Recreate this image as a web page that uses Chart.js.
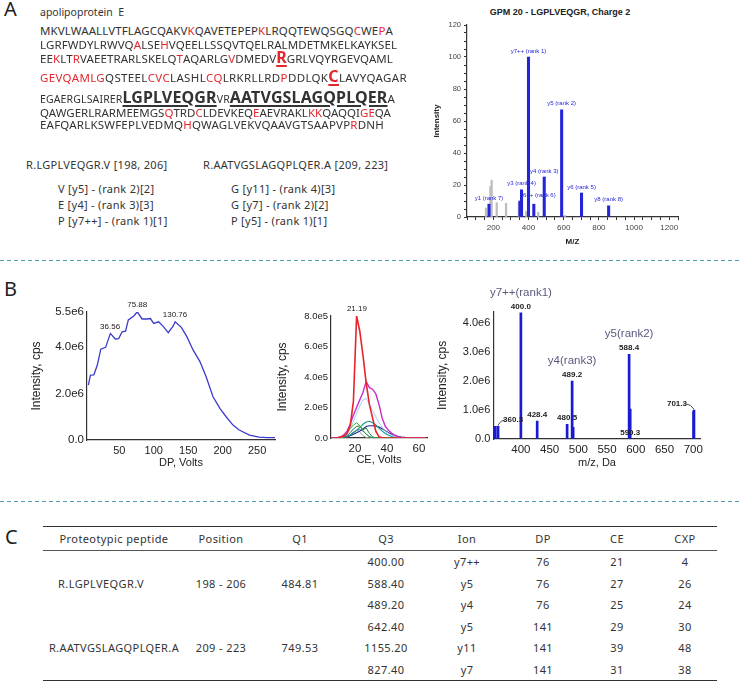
<!DOCTYPE html>
<html>
<head>
<meta charset="utf-8">
<script src="https://cdn.jsdelivr.net/npm/chart.js@4.4.1/dist/chart.umd.min.js"></script>
<style>
  html, body { margin: 0; padding: 0; background: #fff; }
  #page { position: relative; width: 740px; height: 681px; overflow: hidden; font-family: "Noto Sans", sans-serif; color: #333; }
  .abs { position: absolute; white-space: nowrap; }
  .panel { font-size: 20px; line-height: 24px; color: #222; }
  .seq { display: flex; align-items: baseline; left: 40px; font-size: 11.5px; line-height: 20px; }
  .seq span { line-height: 20px; }
  .seq .sm { font-size: 10.5px; }
  .seq .r { color: #e2282e; }
  .seq .big { font-size: 16px; font-weight: bold; text-decoration: underline; text-decoration-thickness: 2px; text-underline-offset: 2px; }
  .frag { font-size: 11px; line-height: 14px; color: #333; letter-spacing: 0.3px; }
  .dash { position: absolute; left: 0; width: 740px; height: 1px; background: repeating-linear-gradient(to right, #4f9cb5 0 4px, transparent 4px 7px); }
  canvas { position: absolute; }
  #tbl { position: absolute; left: 43px; top: 526px; width: 674px; border-collapse: collapse; table-layout: fixed; font-size: 11px; letter-spacing: 0.4px; color: #333; }
  #tbl th { font-weight: normal; height: 23px; padding: 0; text-align: center; border-top: 1.5px solid #333; border-bottom: 1px solid #555; }
  #tbl td { height: 21.5px; padding: 0; text-align: center; }
  #tbl tr.last td { border-bottom: 1.5px solid #333; }
</style>
</head>
<body>
<div id="page">
  <div class="abs panel" style="left:4px;top:-3px;">A</div>
  <div class="abs panel" style="left:4px;top:277px;">B</div>
  <div class="abs panel" style="left:5px;top:525px;">C</div>

  <div class="abs" style="left:40px;top:5px;font-size:10.5px;line-height:14px;color:#333;">apolipoprotein&nbsp; E</div>

  <div class="abs frag" style="left:26px;top:157.6px;">R.LGPLVEQGR.V [198, 206]</div>
  <div class="abs frag" style="left:203px;top:157.6px;">R.AATVGSLAGQPLQER.A [209, 223]</div>
  <div class="abs frag" style="left:58px;top:181.6px;">V [y5] - (rank 2)[2]</div>
  <div class="abs frag" style="left:58px;top:197.6px;">E [y4] - (rank 3)[3]</div>
  <div class="abs frag" style="left:58px;top:213.6px;">P [y7++] - (rank 1)[1]</div>
  <div class="abs frag" style="left:231px;top:181.6px;">G [y11] - (rank 4)[3]</div>
  <div class="abs frag" style="left:231px;top:197.6px;">G [y7] - (rank 2)[2]</div>
  <div class="abs frag" style="left:231px;top:213.6px;">P [y5] - (rank 1)[1]</div>

  <div class="abs" style="left:460px;top:7px;width:200px;text-align:center;font:bold 9px 'Liberation Sans',Arial,sans-serif;color:#222;">GPM 20 - LGPLVEQGR, Charge 2</div>

  <div class="dash" style="top:260px;"></div>
  <div class="dash" style="top:501px;"></div>

  <canvas id="gpm" width="300" height="258" style="left:400px;top:0px;"></canvas>
  <canvas id="dp" width="290" height="175" style="left:0px;top:300px;"></canvas>
  <canvas id="ce" width="175" height="175" style="left:260px;top:300px;"></canvas>
  <canvas id="ms" width="300" height="195" style="left:430px;top:280px;"></canvas>

  <table id="tbl">
    <colgroup>
      <col style="width:142px"><col style="width:72px"><col style="width:86px"><col style="width:86px">
      <col style="width:76px"><col style="width:76px"><col style="width:72px"><col style="width:64px">
    </colgroup>
    <thead><tr id="thead"></tr></thead>
    <tbody id="tbody"></tbody>
  </table>
</div>

<script>
// ---- panel A: sequence text ----
const seqLines = [
  [['MKVLWAALLVTFLAGCQAKV', ''], ['K', 'r'], ['QAVETEPEP', ''], ['K', 'r'], ['LRQQTEWQSGQ', ''], ['C', 'r'], ['WE', ''], ['P', 'r'], ['A', '']],
  [['LGRFWDYLRWVQ', ''], ['A', 'r'], ['LSE', ''], ['H', 'r'], ['VQEELLSSQVTQELRALMDETMKELKAYKSEL', '']],
  [['EE', ''], ['K', 'r'], ['LT', ''], ['R', 'r'], ['VAEETRARLSKELQ', ''], ['T', 'r'], ['AQARLG', ''], ['V', 'r'], ['DMEDV', ''], ['R', 'big r'], ['GRLVQYRGEVQAML', '']],
  [['GEVQAMLG', 'r'], ['QSTEEL', ''], ['CVC', 'r'], ['LASHL', ''], ['CQ', 'r'], ['LRKRLLRD', ''], ['P', 'r'], ['DDLQK', ''], ['C', 'big r'], ['LAVYQAGAR', '']],
  [['EGAERGLSAIRER', 'sm'], ['LGPLVEQGR', 'big'], ['VR', 'sm'], ['AATVGSLAGQPLQER', 'big'], ['A', '']],
  [['QAWGERLRARMEEMGS', ''], ['Q', 'r'], ['TRD', ''], ['C', 'r'], ['LDEVKEQ', ''], ['E', 'r'], ['AEVRAKL', ''], ['KK', 'r'], ['QAQQI', ''], ['GE', 'r'], ['QA', '']],
  [['EAFQARLKSWFEPLVEDMQ', ''], ['H', 'r'], ['QWAGLVEKVQAAVGTSAAPVP', ''], ['R', 'r'], ['DNH', '']]
];
const seqTop = [20.6, 34.6, 46.9, 65.9, 86.8, 102.6, 114.6];
const seqEnd = [393, 397, 393, 407, 395, 391, 384];

const page = document.getElementById('page');
seqLines.forEach((segs, i) => {
  const div = document.createElement('div');
  div.className = 'abs seq';
  div.style.top = seqTop[i] + 'px';
  segs.forEach(([t, c]) => {
    const s = document.createElement('span');
    s.textContent = t;
    if (c) s.className = c;
    div.appendChild(s);
  });
  page.appendChild(div);
  const w = div.getBoundingClientRect().width;
  const n = segs.reduce((a, [t]) => a + t.length, 0);
  div.style.letterSpacing = ((seqEnd[i] - 40 - w) / n) + 'px';
});

// ---- panel C: table ----
const tableHead = ['Proteotypic peptide', 'Position', 'Q1', 'Q3', 'Ion', 'DP', 'CE', 'CXP'];
const peptides = ['R.LGPLVEQGR.V', 'R.AATVGSLAGQPLQER.A'];
const positions = ['198 - 206', '209 - 223'];
const q1Values = ['484.81', '749.53'];
const q3Values = ['400.00', '588.40', '489.20', '642.40', '1155.20', '827.40'];
const ionNames = ['y7++', 'y5', 'y4', 'y5', 'y11', 'y7'];
const dpValues = [76, 76, 76, 141, 141, 141];
const ceValues = [21, 27, 25, 29, 39, 31];
const cxpValues = [4, 26, 24, 30, 48, 38];

document.getElementById('thead').innerHTML = tableHead.map(h => `<th>${h}</th>`).join('');
let rows = '';
q3Values.forEach((q3, i) => {
  const p = Math.floor(i / 3);
  const lead = i % 3 === 0
    ? `<td rowspan="3">${peptides[p]}</td><td rowspan="3">${positions[p]}</td><td rowspan="3">${q1Values[p]}</td>` : '';
  rows += `<tr class="${i === q3Values.length - 1 ? 'last' : ''}">${lead}<td>${q3}</td><td>${ionNames[i]}</td><td>${dpValues[i]}</td><td>${ceValues[i]}</td><td>${cxpValues[i]}</td></tr>`;
});
document.getElementById('tbody').innerHTML = rows;
document.querySelectorAll('#tbody td[rowspan]').forEach((td, k) => { if (k >= 3) td.style.borderBottom = '1.5px solid #333'; });
document.querySelector('#tbody td[rowspan]').style.paddingRight = '26px';

// ---- chart data ----
// GPM spectrum (A)
const gpmGrayMz  = [158, 183, 190, 219, 272, 345, 352, 387, 455, 607];
const gpmGrayInt = [5.6, 19, 23, 9, 8.5, 9, 9, 3.5, 3, 1];
const gpmBlueMz  = [175.1, 351.2, 360.2, 399.7, 430, 489.2, 588.3, 701.4, 855.5];
const gpmBlueInt = [8, 10, 17, 100, 8, 25, 67, 15, 7];
const gpmBlueTags = ['y1 (rank 7)', 'y6++ (rank 6)', 'y3 (rank 4)', 'y7++ (rank 1)', '', 'y4 (rank 3)', 'y5 (rank 2)', 'y6 (rank 5)', 'y8 (rank 8)'];

// DP ramp (B left), intensity in 1e6 cps
const dpVolts = [5, 8, 13, 18, 23, 30, 37, 44, 49, 54, 59, 63, 71, 76, 83, 90, 95, 100, 107, 114, 121, 128, 131, 140, 148, 157, 167, 176, 186, 196, 205, 215, 224, 239, 253, 265, 276];
const dpInt = [2.36, 2.79, 2.8, 3.22, 3.9, 3.98, 4.58, 4.34, 4.36, 4.65, 4.68, 5.16, 5.33, 5.51, 5.2, 5.2, 5.22, 5.01, 5.08, 4.87, 4.61, 4.89, 5.08, 4.84, 4.44, 3.87, 3.37, 2.72, 1.86, 1.36, 1.0, 0.64, 0.43, 0.21, 0.12, 0.1, 0.1];
const dpPeakV = [36.56, 75.88, 130.76];
const dpPeakI = [4.58, 5.51, 5.08];
const dpXTicks = [50, 100, 150, 200, 250];
const dpYTicks = [0, 2, 4, 5.5];

// CE ramp (B middle), intensity in 1e5 cps
const ceVolts   = [5, 7, 9, 11, 13, 15, 17, 19, 21, 23, 25, 27, 29, 31, 33, 35, 37, 39, 41, 43, 45, 47, 49, 51, 53, 55, 58, 61, 64];
const ceRed     = [0, 0, 0.02, 0.05, 0.12, 0.3, 0.8, 2.4, 8.0, 7.0, 5.4, 3.6, 2.2, 1.3, 0.45, 0.08, 0.02, 0, 0, 0, 0, 0, 0, 0, 0, 0, 0, 0, 0];
const ceMagenta = [0, 0, 0.02, 0.08, 0.2, 0.45, 0.9, 1.5, 2.0, 2.5, 3.0, 3.7, 3.3, 3.2, 2.9, 2.2, 1.3, 0.75, 0.5, 0.3, 0.18, 0.08, 0.03, 0, 0, 0, 0, 0, 0];
const ceLtBlue  = [0, 0, 0, 0.03, 0.1, 0.3, 0.65, 1.1, 1.6, 2.1, 2.5, 2.6, 2.2, 1.8, 1.4, 1.0, 0.7, 0.45, 0.3, 0.18, 0.1, 0.05, 0.02, 0, 0, 0, 0, 0, 0];
const ceGreen   = [0, 0, 0, 0, 0.1, 0.3, 0.6, 0.85, 1.0, 0.8, 0.5, 0.25, 0.08, 0, 0, 0, 0, 0, 0, 0, 0, 0, 0, 0, 0, 0, 0, 0, 0];
const ceDkGreen = [0, 0, 0, 0, 0.05, 0.15, 0.35, 0.6, 0.75, 0.8, 0.55, 0.65, 0.3, 0.08, 0, 0, 0, 0, 0, 0, 0, 0, 0, 0, 0, 0, 0, 0, 0];
const ceTeal    = [0, 0, 0, 0, 0.03, 0.1, 0.2, 0.35, 0.5, 0.7, 0.9, 1.05, 1.1, 1.0, 0.85, 0.65, 0.45, 0.3, 0.18, 0.1, 0.05, 0.02, 0, 0, 0, 0, 0, 0, 0];
const ceNavy    = [0, 0, 0, 0, 0.02, 0.08, 0.15, 0.25, 0.35, 0.45, 0.6, 0.75, 0.8, 0.8, 0.78, 0.72, 0.6, 0.48, 0.35, 0.25, 0.17, 0.1, 0.06, 0.04, 0.02, 0, 0, 0, 0];
const ceGray    = [0, 0, 0, 0, 0, 0.05, 0.2, 0.4, 0.5, 0.4, 0.15, 0.03, 0, 0, 0, 0, 0, 0, 0, 0, 0, 0, 0, 0, 0, 0, 0, 0, 0];
const ceBlue    = [0, 0, 0, 0, 0.02, 0.08, 0.2, 0.35, 0.5, 0.55, 0.45, 0.25, 0.1, 0.02, 0, 0, 0, 0, 0, 0, 0, 0, 0, 0, 0, 0, 0, 0, 0];
const cePeakV = [21.19];
const cePeakI = [8.0];
const ceXTicks = [20, 40, 60];
const ceYTicks = [0, 2, 4, 6, 8];

// product ion spectrum (B right), intensity in 1e6 cps
const msMz  = [353, 355.5, 360.3, 400.0, 428.4, 480.5, 489.2, 491, 588.4, 590.3, 700.6, 701.3];
const msInt = [0.42, 0.44, 0.45, 4.36, 0.62, 0.51, 2.0, 0.4, 2.93, 1.03, 0.95, 1.0];
const msTagMz  = [360.3, 400.0, 428.4, 480.5, 489.2, 588.4, 590.3, 701.3];
const msTagInt = [0.45, 4.36, 0.62, 0.51, 2.0, 2.93, 0, 1.0];
const msIonMz  = [400.0, 489.2, 588.4];
const msIonInt = [4.36, 2.0, 2.93];
const msIonTags = ['y7++(rank1)', 'y4(rank3)', 'y5(rank2)'];
const msXTicks = [400, 450, 500, 550, 600, 650, 700];
const msYTicks = [0, 1, 2, 3, 4];

// ---- chart setup ----
Chart.defaults.font.family = '"Liberation Sans", Arial, sans-serif';
Chart.defaults.color = '#222';
Chart.defaults.animation = false;
Chart.defaults.responsive = false;
Chart.defaults.plugins.legend.display = false;
Chart.defaults.plugins.tooltip.enabled = false;

function axis(o) {
  const a = {
    type: 'linear', min: o.min, max: o.max, offset: false,
    afterFit: s => { if (o.w) s.width = o.w; if (o.h) s.height = o.h; },
    border: { color: '#333', width: 1.2 },
    grid: { display: true, drawOnChartArea: false, drawTicks: !!o.tick, tickLength: o.tick || 0, color: '#333', offset: false },
    ticks: { font: { size: o.fs }, color: o.tc || '#222', padding: o.pad ?? 3, maxRotation: 0, autoSkip: false, callback: o.fmt },
    title: { display: true, text: o.title, color: '#222', font: { size: o.tfs, weight: o.tw || 'normal' }, padding: o.tpad }
  };
  if (o.step) a.ticks.stepSize = o.step;
  if (o.list) a.afterBuildTicks = s => { s.ticks = o.list.map(v => ({ value: v })); };
  return a;
}

// text tags anchored on data values
const tags = {
  id: 'tags',
  afterDatasetsDraw(chart, args, opts) {
    const { ctx, scales: { x, y } } = chart;
    ctx.save();
    (opts.groups || []).forEach(g => {
      ctx.font = g.font;
      ctx.fillStyle = g.color;
      ctx.textBaseline = 'middle';
      g.items.forEach(t => {
        if (!t.text) return;
        const ax = x.getPixelForValue(t.x), ay = y.getPixelForValue(t.y);
        const px = ax + (t.dx || 0), py = ay - g.gap;
        ctx.textAlign = t.align || 'center';
        ctx.fillText(t.text, px, py);
        if (t.dx) {
          ctx.strokeStyle = g.color; ctx.lineWidth = 0.8;
          ctx.beginPath();
          ctx.moveTo(ax, ay - 1);
          ctx.quadraticCurveTo(ax + t.dx * 0.2, py, ax + t.dx * 0.45, py);
          ctx.stroke();
        }
      });
    });
    ctx.restore();
  }
};

// A: GPM spectrum
new Chart(document.getElementById('gpm'), {
  type: 'bar',
  data: {
    datasets: [
      { data: gpmBlueMz.map((x, i) => ({ x, y: gpmBlueInt[i] })), backgroundColor: '#2424d8', barThickness: 2.4, grouped: false },
      { data: gpmGrayMz.map((x, i) => ({ x, y: gpmGrayInt[i] })), backgroundColor: '#bdbdbd', barThickness: 1.6, grouped: false }
    ]
  },
  options: {
    layout: { padding: { left: 0, top: 25, right: 22, bottom: 0 } },
    scales: {
      x: axis({ min: 50, max: 1250, step: 50, h: 41, tick: 3, pad: 3, fs: 8, tc: '#444',
        fmt: v => (v % 200 === 0 ? v : ''), title: 'M/Z', tfs: 8, tw: 'bold', tpad: { top: 0, bottom: 11 } }),
      y: axis({ min: 0, max: 120, step: 5, w: 67, tick: 3, pad: 3, fs: 7.5, tc: '#444',
        fmt: v => (v % 20 === 0 ? v : ''), title: 'Intensity', tfs: 8, tw: 'bold', tpad: { top: 32, bottom: 0 } })
    },
    plugins: {
      tags: { groups: [{
        font: '6px "Liberation Sans", Arial', color: '#2424d8', gap: 6,
        items: gpmBlueMz.map((x, i) => ({ x, y: gpmBlueInt[i], text: gpmBlueTags[i], align: gpmBlueTags[i].startsWith('y6++') ? 'left' : 'center' }))
      }] }
    }
  },
  plugins: [tags]
});

// B left: DP ramp
new Chart(document.getElementById('dp'), {
  type: 'line',
  data: { datasets: [{ data: dpVolts.map((x, i) => ({ x, y: dpInt[i] })), borderColor: '#3b3bcc', borderWidth: 1.3, pointRadius: 0, tension: 0 }] },
  options: {
    layout: { padding: { left: 0, top: 12, right: 15, bottom: 0 } },
    scales: {
      x: axis({ min: 3, max: 276, list: dpXTicks, h: 35, pad: 4, fs: 11, title: 'DP, Volts', tfs: 11, tpad: { top: 0, bottom: 5.4 } }),
      y: axis({ min: 0, max: 5.5, list: dpYTicks, w: 87, pad: 3, fs: 11.5,
        fmt: v => (v === 0 ? '0.0' : v.toFixed(1) + 'e6'), title: 'Intensity, cps', tfs: 12, tpad: { top: 29.5, bottom: 0 } })
    },
    plugins: {
      tags: { groups: [{ font: '8px "Liberation Sans", Arial', color: '#222', gap: 7,
        items: dpPeakV.map((x, i) => ({ x, y: dpPeakI[i], text: x.toFixed(2) })) }] }
    }
  },
  plugins: [tags]
});

// B middle: CE ramp
const ceSeries = [
  [ceRed, '#e8242a', 1.6], [ceMagenta, '#cc2ccc', 1.4], [ceLtBlue, '#9fd0ee', 1.0],
  [ceGreen, '#2fae2f', 1.0], [ceDkGreen, '#1f7a45', 1.0], [ceTeal, '#139a8c', 1.1],
  [ceNavy, '#23238f', 1.1], [ceGray, '#9a9a9a', 1.0], [ceBlue, '#3060cc', 1.0]
];
new Chart(document.getElementById('ce'), {
  type: 'line',
  data: { datasets: ceSeries.map(([vals, color, w]) => ({
    data: ceVolts.map((x, i) => ({ x, y: vals[i] })), borderColor: color, borderWidth: w, pointRadius: 0, tension: 0 })) },
  options: {
    layout: { padding: { left: 0, top: 16, right: 8, bottom: 0 } },
    scales: {
      x: axis({ min: 5, max: 65, list: ceXTicks, h: 37, pad: 4, fs: 11.5, title: 'CE, Volts', tfs: 11, tpad: { top: 0, bottom: 8.4 } }),
      y: axis({ min: 0, max: 8, list: ceYTicks, w: 71, pad: 3, fs: 9.5,
        fmt: v => (v === 0 ? '0.0' : v.toFixed(1) + 'e5'), title: 'Intensity, cps', tfs: 12, tpad: { top: 15.8, bottom: 0 } })
    },
    plugins: {
      tags: { groups: [{ font: '8px "Liberation Sans", Arial', color: '#222', gap: 7,
        items: cePeakV.map((x, i) => ({ x, y: cePeakI[i], text: x.toFixed(2) })) }] }
    }
  },
  plugins: [tags]
});

// B right: product ion spectrum
new Chart(document.getElementById('ms'), {
  type: 'bar',
  data: { datasets: [{ data: msMz.map((x, i) => ({ x, y: msInt[i] })), backgroundColor: '#1a1ad0', barThickness: 2, grouped: false }] },
  options: {
    layout: { padding: { left: 0, top: 31.7, right: 29.3, bottom: 0 } },
    scales: {
      x: axis({ min: 352, max: 713, list: msXTicks, h: 36, pad: 4, fs: 11.5, title: 'm/z, Da', tfs: 11, tpad: { top: 0, bottom: 5.4 } }),
      y: axis({ min: 0, max: 4.4, list: msYTicks, w: 63.3, pad: 3, fs: 11,
        fmt: v => (v === 0 ? '0.0' : v.toFixed(1) + 'e6'), title: 'Intensity, cps', tfs: 12, tpad: { top: 5.8, bottom: 0 } })
    },
    plugins: {
      tags: { groups: [
        { font: 'bold 8px "Liberation Sans", Arial', color: '#222', gap: 6,
          items: msTagMz.map((x, i) => ({ x, y: msTagInt[i], text: x.toFixed(1),
            dx: x === 360.3 ? 15 : (x === 701.3 ? -17 : 0) })) },
        { font: '11.5px "Liberation Sans", Arial', color: '#5a5a80', gap: 20,
          items: msIonMz.map((x, i) => ({ x, y: msIonInt[i], text: msIonTags[i] })) }
      ] }
    }
  },
  plugins: [tags]
});
</script>
</body>
</html>
